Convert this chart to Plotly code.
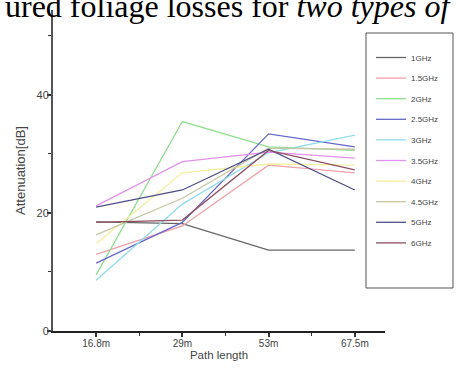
import plotly.graph_objects as go

categories = ["16.8m", "29m", "53m", "67.5m"]
series_names = ["1GHz", "1.5GHz", "2GHz", "2.5GHz", "3GHz", "3.5GHz", "4GHz", "4.5GHz", "5GHz", "6GHz"]
v_1GHz = [18.5, 18.2, 13.7, 13.7]
v_1_5GHz = [13.0, 17.8, 28.1, 26.8]
v_2GHz = [9.5, 35.5, 31.2, 30.6]
v_2_5GHz = [11.5, 18.4, 33.4, 31.2]
v_3GHz = [8.6, 21.5, 30.2, 33.2]
v_3_5GHz = [21.2, 28.7, 30.3, 29.3]
v_4GHz = [14.8, 26.8, 28.3, 28.1]
v_4_5GHz = [16.3, 22.5, 31.0, 30.8]
v_5GHz = [21.0, 23.9, 30.8, 23.9]
v_6GHz = [18.4, 18.8, 30.6, 27.3]
series_values = [v_1GHz, v_1_5GHz, v_2GHz, v_2_5GHz, v_3GHz, v_3_5GHz, v_4GHz, v_4_5GHz, v_5GHz, v_6GHz]
colors = ["#666666", "#f0a0a8", "#8fdf8f", "#6868c8", "#8fdcef", "#e490ee",
          "#f6eea0", "#c6c6a6", "#4e4e86", "#8e5060"]
y_major = [0, 20, 40]
y_minor = [10, 30, 50]

xpos = list(range(len(categories)))

fig = go.Figure()
for name, vals, c in zip(series_names, series_values, colors):
    fig.add_trace(go.Scatter(x=xpos, y=vals, mode="lines", name=name,
                             legendgroup=name,
                             line=dict(color=c, width=1.3)))

L, R, T, B = 53, 72, 10, 52
W, H = 457, 383
pw, ph = W - L - R, H - T - B

def px_x(p):
    return (p - L) / pw

def px_y(p):
    return (H - B - p) / ph

fig.update_layout(
    width=W, height=H,
    margin=dict(l=L, r=R, t=T, b=B, pad=0, autoexpand=False),
    paper_bgcolor="white", plot_bgcolor="white",
    font=dict(family="Liberation Sans, Arial", color="#333333"),
    showlegend=True,
    legend=dict(
        x=px_x(371), y=px_y(43), xanchor="left", yanchor="top",
        bgcolor="rgba(0,0,0,0)", borderwidth=0,
        font=dict(size=8, color="#444444"),
        tracegroupgap=1.6, itemwidth=30,
    ),
    xaxis=dict(
        range=[-0.5, 3.35], automargin=False,
        tickmode="array", tickvals=xpos, ticktext=categories,
        ticks="outside", ticklen=4, tickwidth=1.5, tickcolor="#333333",
        minor=dict(tickvals=[0.5, 1.5, 2.5], ticks="outside", ticklen=3,
                   tickwidth=1.2, tickcolor="#333333"),
        showline=True, linecolor="#222222", linewidth=2,
        showgrid=False, zeroline=False,
        tickfont=dict(size=10, color="#444444"),
        ticklabelstandoff=-2,
        title=dict(text="Path length", font=dict(size=11.5, color="#444444"), standoff=0),
    ),
    yaxis=dict(
        range=[0, 54.4], automargin=False,
        tickmode="array", tickvals=y_major, ticktext=[str(v) for v in y_major],
        ticks="outside", ticklen=4, tickwidth=1.5, tickcolor="#333333",
        minor=dict(tickvals=y_minor, ticks="outside", ticklen=3,
                   tickwidth=1.2, tickcolor="#333333"),
        showline=True, linecolor="#555555", linewidth=2,
        showgrid=False, zeroline=False,
        tickfont=dict(size=11, color="#444444"),
        ticklabelstandoff=-4,
        title=dict(text="Attenuation[dB]", font=dict(size=13, color="#444444"), standoff=8),
    ),
    shapes=[dict(type="rect", xref="paper", yref="paper",
                 x0=px_x(366), x1=px_x(453), y0=px_y(288), y1=px_y(33),
                 line=dict(color="#555555", width=1), fillcolor="rgba(0,0,0,0)")],
    annotations=[dict(text="ured foliage losses for <i>two types of</i>",
                      xref="paper", yref="paper", x=px_x(455), y=px_y(26),
                      xanchor="right", yanchor="bottom", showarrow=False,
                      font=dict(family="Liberation Serif, Times New Roman", size=32, color="black"))],
)

fig.write_html("out.html", config={"displayModeBar": False},
               post_script="document.body.style.margin='0';document.body.style.padding='0';")
